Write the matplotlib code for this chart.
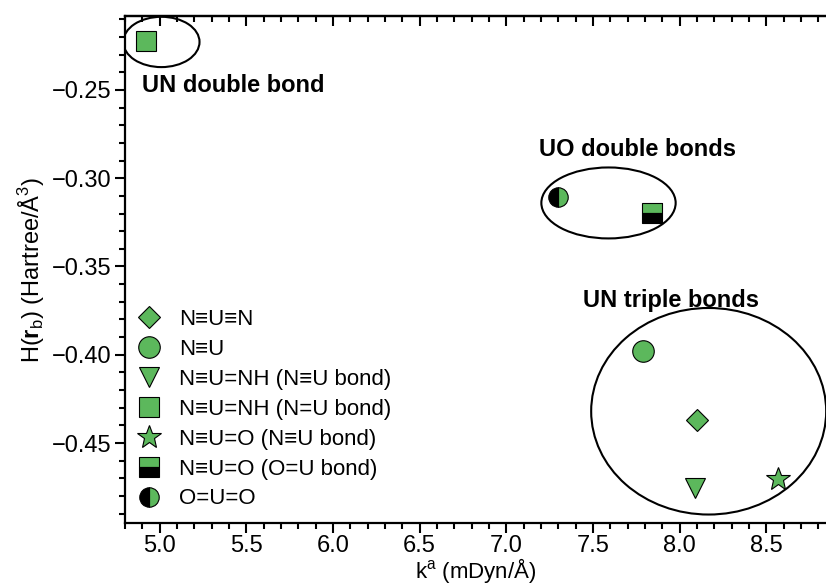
import matplotlib
matplotlib.use("Agg")
import matplotlib.pyplot as plt
from matplotlib.patches import Ellipse
from matplotlib.ticker import MultipleLocator

plt.rcParams['font.family'] = ['Liberation Sans', 'DejaVu Sans']
plt.rcParams['mathtext.fontset'] = 'custom'
plt.rcParams['mathtext.rm'] = 'Liberation Sans'
plt.rcParams['mathtext.bf'] = 'Liberation Sans:bold'

# datos
labels = ['N≡U≡N', 'N≡U', 'N≡U=NH (N≡U bond)', 'N≡U=NH (N=U bond)',
          'N≡U=O (N≡U bond)', 'N≡U=O (O=U bond)', 'O=U=O']
k_vals = [8.10, 7.79, 8.09, 4.92, 8.57, 7.84, 7.30]
h_vals = [-0.437, -0.398, -0.4755, -0.222, -0.4705, -0.3197, -0.3104]
markers = ['D', 'o', 'v', 's', '*', 's', 'o']
sizes = [11, 15.5, 14, 14, 18, 14, 14]
fills = ['full', 'full', 'full', 'full', 'full', 'top', 'right']

# grupos (centro x, centro y, ancho, alto, texto, posicion del texto)
group_names = ['UN double bond', 'UO double bonds', 'UN triple bonds']
group_cx = [5.01, 7.59, 8.168]
group_cy = [-0.2228, -0.314, -0.432]
group_w = [0.44, 0.775, 1.356]
group_h = [0.0285, 0.0402, 0.117]
text_x = [4.90, 7.19, 7.44]
text_y = [-0.2477, -0.2840, -0.3693]

green = '#5CB85C'

fig = plt.figure(figsize=(8.26, 5.85), dpi=100)
ax = fig.add_axes([125/826, 1-523/585, 701/826, (523-16)/585])

for lab, k, h, m, s, f in zip(labels, k_vals, h_vals, markers, sizes, fills):
    if f == 'full':
        ax.plot(k, h, marker=m, markersize=s, color=green, markeredgecolor='black',
                markeredgewidth=0.8, linestyle='none', label=lab)
    else:
        ax.plot(k, h, marker=m, markersize=s, fillstyle=f, markerfacecolor=green,
                markerfacecoloralt='black', markeredgecolor='black',
                markeredgewidth=0.8, linestyle='none', label=lab)

for name, cx, cy, w, hh, tx, ty in zip(group_names, group_cx, group_cy, group_w, group_h, text_x, text_y):
    ax.add_patch(Ellipse((cx, cy), w, hh, fill=False, edgecolor='black', linewidth=1.5))
    ax.text(tx, ty, name, fontsize=17, fontweight='bold', va='center', ha='left')

ax.set_xlim(4.8, 4.8 + 701/173.3)
ax.set_ylim(-0.4953, -0.2081)
ax.xaxis.set_major_locator(MultipleLocator(0.5))
ax.xaxis.set_minor_locator(MultipleLocator(0.1))
ax.yaxis.set_major_locator(MultipleLocator(0.05))
ax.yaxis.set_minor_locator(MultipleLocator(0.01))
ax.xaxis.set_major_formatter(lambda v, p: f'{v:.1f}')
ax.yaxis.set_major_formatter(lambda v, p: f'\u2212{abs(v):.2f}')

ax.spines['right'].set_visible(False)
for sp in ['left', 'bottom', 'top']:
    ax.spines[sp].set_linewidth(1.6)
ax.tick_params(which='major', direction='out', length=7, width=1.5, labelsize=17, pad=3)
ax.tick_params(axis='x', which='major', pad=2)
ax.tick_params(which='minor', direction='out', length=4, width=1.5)

top = ax.secondary_xaxis('top')
top.xaxis.set_major_locator(MultipleLocator(0.5))
top.xaxis.set_minor_locator(MultipleLocator(0.1))
top.spines['top'].set_linewidth(1.6)
top.tick_params(which='major', direction='in', length=7, width=1.5, labeltop=False)
top.tick_params(which='minor', direction='in', length=4, width=1.5)

ax.set_xlabel(r'k$^\mathrm{a}$ (mDyn/Å)', fontsize=16, labelpad=-1)
ax.set_ylabel(r'H($\mathbf{r}_\mathrm{b}$) (Hartree/Å$^3$)', fontsize=17, labelpad=3)

ax.legend(loc='upper left', bbox_to_anchor=(0.0, 0.446), frameon=False, fontsize=16,
          handletextpad=0.8, labelspacing=0.4, borderaxespad=0.15, handlelength=1.1)

fig.savefig('out.png', dpi=100)
